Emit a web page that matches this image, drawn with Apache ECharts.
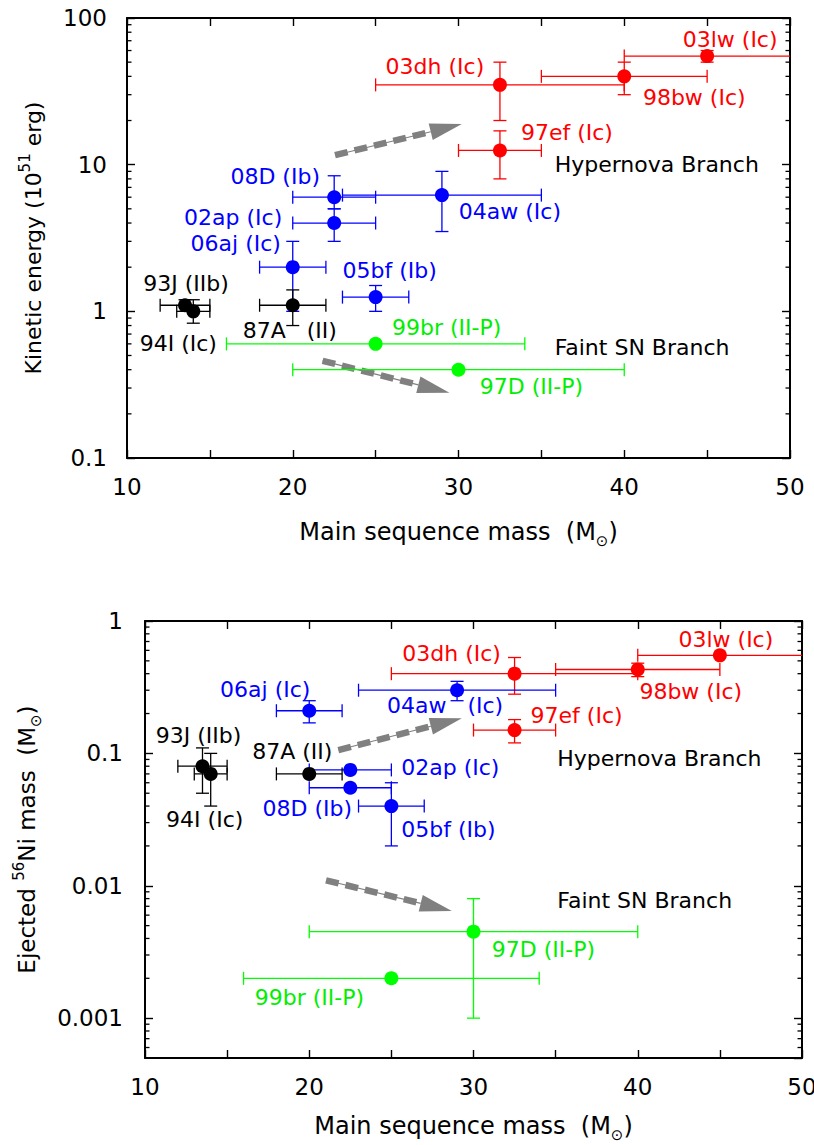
<!DOCTYPE html>
<html><head><meta charset="utf-8">
<script src="https://cdn.jsdelivr.net/npm/echarts@6/dist/echarts.min.js"></script>
<style>html,body{margin:0;padding:0;background:#fff}#c{width:814px;height:1145px}</style>
</head><body><div id="c"></div>
<script>
// ---------- data ----------
const snNames = ['03lw','98bw','03dh','97ef','08D','04aw','02ap','06aj','05bf','93J','94I','87A','99br','97D'];
const snGroup = ['HN','HN','HN','HN','SN','SN','SN','SN','SN','BK','BK','BK','FT','FT'];
const keLabels = ['03lw (Ic)','98bw (Ic)','03dh (Ic)','97ef (Ic)','08D (Ib)','04aw (Ic)','02ap (Ic)','06aj (Ic)','05bf (Ib)','93J (IIb)','94I (Ic)','87A   (II)','99br (II-P)','97D (II-P)'];
const niLabels = ['03lw (Ic)','98bw (Ic)','03dh (Ic)','97ef (Ic)','08D (Ib)','04aw   (Ic)','02ap (Ic)','06aj (Ic)','05bf (Ib)','93J (IIb)','94I (Ic)','87A (II)','99br (II-P)','97D (II-P)'];
const mass   = [45, 40, 32.5, 32.5, 22.5, 29, 22.5, 20, 25, 13.5, 14, 20, 25, 30];
const massLo = [40, 35, 25, 30, 20, 23, 20, 18, 23, 12, 13, 18, 16, 20];
const massHi = [55, 45, 40, 35, 25, 35, 25, 22, 27, 15, 15, 22, 34, 40];
const energy   = [55, 40, 35, 12.5, 6, 6.2, 4, 2, 1.25, 1.1, 1.0, 1.1, 0.6, 0.4];
const energyLo = [50, 30, 20, 8, 5, 3.5, 3, 1, 1.0, 1.0, 0.83, 0.8, null, null];
const energyHi = [60, 50, 50, 17, 8.4, 9, 5, 3, 1.5, 1.2, 1.2, 1.4, null, null];
const niMass = [0.55, 0.43, 0.4, 0.15, 0.055, 0.3, 0.075, 0.21, 0.04, 0.08, 0.07, 0.07, 0.002, 0.0045];
const niLo   = [null, 0.38, 0.28, 0.12, null, 0.25, null, 0.17, 0.02, 0.05, 0.04, null, null, 0.001];
const niHi   = [null, 0.48, 0.53, 0.18, null, 0.35, null, 0.25, 0.06, 0.11, 0.10, null, null, 0.008];
// arrows [x0, y0, x1, y1]
const keArrows = [[22.55, 11.6, 30.2, 18.9], [21.8, 0.46, 29.45, 0.279]];
const niArrows = [[21.77, 0.106, 29.29, 0.184], [21.02, 0.011, 28.68, 0.00646]];
const branchText = ['Hypernova Branch', 'Faint SN Branch'];
const keBranchX = [35.8, 35.8], keBranchY = [10.1, 0.565];
const niBranchX = [35.1, 35.1], niBranchY = [0.0917, 0.00778];
const xTicks = [10, 20, 30, 40, 50];
const keRange = [0.1, 100], niRange = [0.0005, 1];
const minorMultiples = [2, 3, 4, 5, 6, 7, 8, 9];

// ---------- styles ----------
const groupColor = {HN: '#ff0000', SN: '#0000ff', BK: '#000000', FT: '#00ff00'};
const textColor  = {HN: '#ff0000', SN: '#0000ff', BK: '#000000', FT: '#00ee00'};
const keLabelOffset = [[23,-17],[70,21],[-65,-18],[67,-18],[-59,-21],[68,16],[-101,-6],[-57,-24],[14,-27],[1,-22],[-15,32],[-3,25],[71,-16],[73,17]];
const niLabelOffset = [[6,-16],[53,22],[-63,-20],[62,-15],[-43,21],[-12,15],[100,-2],[-44,-21],[57,23],[-4,-31],[-6,46],[-17,-22],[-82,19],[70,18]];
const FONT = 'DejaVu Sans';

function scatterData(ys, labels, offsets) {
  return mass.map((m, i) => ({
    value: [m, ys[i]],
    itemStyle: {color: groupColor[snGroup[i]], opacity: 1},
    label: {show: true, position: 'inside', offset: offsets[i], formatter: labels[i], opacity: 1,
            color: textColor[snGroup[i]], fontSize: 22, fontFamily: FONT}
  }));
}

function errRender(ys, ylo, yhi) {
  return function (params, api) {
    const i = params.dataIndex;
    const c = api.coord([mass[i], ys[i]]);
    const col = groupColor[snGroup[i]];
    const st = {stroke: col, lineWidth: 1.3, opacity: 1};
    const cap = 6.5;
    const ch = [];
    const L = (x1, y1, x2, y2) => ch.push({type: 'line', shape: {x1, y1, x2, y2}, style: st});
    if (massLo[i] != null) {
      const a = api.coord([massLo[i], ys[i]])[0], b = api.coord([massHi[i], ys[i]])[0];
      L(a, c[1], b, c[1]); L(a, c[1]-cap, a, c[1]+cap); L(b, c[1]-cap, b, c[1]+cap);
    }
    if (ylo[i] != null) {
      const a = api.coord([mass[i], ylo[i]])[1], b = api.coord([mass[i], yhi[i]])[1];
      L(c[0], a, c[0], b); L(c[0]-cap, a, c[0]+cap, a); L(c[0]-cap, b, c[0]+cap, b);
    }
    return {type: 'group', children: ch};
  };
}

function arrowRender(arrows) {
  return function (params, api) {
    const a = arrows[params.dataIndex];
    const p0 = api.coord([a[0], a[1]]), p1 = api.coord([a[2], a[3]]);
    const dx = p1[0]-p0[0], dy = p1[1]-p0[1], len = Math.hypot(dx, dy);
    const ux = dx/len, uy = dy/len, nx = -uy, ny = ux;
    const hl = 32, hw = 8.5;
    const bx = p1[0]-ux*hl, by = p1[1]-uy*hl;
    return {type: 'group', children: [
      {type: 'line', shape: {x1: p0[0], y1: p0[1], x2: bx, y2: by}, style: {stroke: '#808080', lineWidth: 1.2}},
      {type: 'line', shape: {x1: p0[0], y1: p0[1], x2: bx, y2: by}, style: {stroke: '#808080', lineWidth: 6.5, lineDash: [13, 7], lineCap: 'butt'}},
      {type: 'polygon', shape: {points: [[p1[0], p1[1]], [bx+nx*hw, by+ny*hw], [bx-nx*hw, by-ny*hw]]}, style: {fill: '#808080'}}
    ]};
  };
}

function minorTicks(range) {
  const out = [];
  for (let k = Math.floor(Math.log10(range[0])); k < Math.log10(range[1]); k++) {
    minorMultiples.forEach(m => { const v = m * Math.pow(10, k); if (v > range[0] && v < range[1]) out.push([10, v]); });
  }
  return out;
}
function minorRender(params, api) {
  const cs = params.coordSys;
  const y = api.coord([api.value(0), api.value(1)])[1];
  const st = {stroke: '#000', lineWidth: 1.3};
  return {type: 'group', children: [
    {type: 'line', shape: {x1: cs.x, y1: y, x2: cs.x + 4.5, y2: y}, style: st},
    {type: 'line', shape: {x1: cs.x + cs.width - 4.5, y1: y, x2: cs.x + cs.width, y2: y}, style: st}
  ]};
}
function branchRender(xs, ys) {
  return function (params, api) {
    const i = params.dataIndex;
    const p = api.coord([xs[i], ys[i]]);
    return {type: 'text', x: p[0], y: p[1], style: {text: branchText[i], fill: '#000', fontSize: 22, fontFamily: FONT, align: 'left', verticalAlign: 'middle'}};
  };
}

const axLine = {show: true, onZero: false, lineStyle: {color: '#000', width: 2}};
const tick = {show: true, inside: true, length: 8, lineStyle: {color: '#000', width: 1.4}};
const lab = {fontSize: 23, fontFamily: FONT, color: '#000'};
const xLab = Object.assign({}, lab, {margin: 17, formatter: v => xTicks.indexOf(v) >= 0 ? String(v) : ''});
const yFmt = v => String(+(+v).toPrecision(1));
function rich(sz) {
  return {
    a: {fontSize: sz, fontFamily: FONT, color: '#000', lineHeight: 32},
    s: {fontSize: 15, fontFamily: FONT, color: '#000', lineHeight: 16, verticalAlign: 'top'},
    b: {fontSize: 15, fontFamily: FONT, color: '#000', lineHeight: 18, verticalAlign: 'bottom'}
  };
}
const xName = '{a|Main sequence mass  (M}{b|\u2299}{a|)}';

function xAx(g, pos, name, gap) {
  return {gridIndex: g, type: 'value', min: 10, max: 50, interval: 5, position: pos,
    axisLine: axLine, axisTick: tick, splitLine: {show: false},
    axisLabel: pos === 'bottom' ? xLab : {show: false},
    name: name || '', nameLocation: 'middle', nameGap: gap || 0, nameTextStyle: {rich: rich(24)}};
}
function yAx(g, pos, range, name, gap, margin, sz) {
  return {gridIndex: g, type: 'log', logBase: 10, min: range[0], max: range[1], position: pos,
    axisLine: axLine, axisTick: tick, splitLine: {show: false}, minorTick: {show: false},
    axisLabel: pos === 'left' ? Object.assign({}, lab, {margin: margin, formatter: yFmt, showMinLabel: range[0] === 0.1}) : {show: false},
    name: name || '', nameLocation: 'middle', nameRotate: 90, nameGap: gap || 0, nameTextStyle: {rich: rich(sz || 22)}};
}

const option = {
  animation: false,
  backgroundColor: '#fff',
  textStyle: {fontFamily: FONT},
  grid: [
    {left: 127, top: 18, width: 663, height: 440, outerBoundsMode: 'none', containLabel: false},
    {left: 145, top: 621, width: 657, height: 437, outerBoundsMode: 'none', containLabel: false}
  ],
  xAxis: [xAx(0, 'bottom', xName, 58), xAx(0, 'top'), xAx(1, 'bottom', xName, 52), xAx(1, 'top')],
  yAxis: [
    yAx(0, 'left', keRange, '{a|Kinetic energy (10}{s|51}{a| erg)}', 78, 20, 22), yAx(0, 'right', keRange),
    yAx(1, 'left', niRange, '{a|Ejected }{s|56}{a|Ni mass  (M}{b|\u2299}{a|)}', 102, 22, 23), yAx(1, 'right', niRange)
  ],
  series: [
    {type: 'custom', xAxisIndex: 0, yAxisIndex: 0, clip: true, z: 2, renderItem: errRender(energy, energyLo, energyHi), data: mass.map((m, i) => [m, energy[i]])},
    {type: 'custom', xAxisIndex: 0, yAxisIndex: 0, clip: true, z: 1, renderItem: arrowRender(keArrows), data: keArrows.map(a => [a[0], a[1]])},
    {type: 'custom', xAxisIndex: 0, yAxisIndex: 0, z: 5, renderItem: minorRender, data: minorTicks(keRange)},
    {type: 'custom', xAxisIndex: 0, yAxisIndex: 0, z: 5, renderItem: branchRender(keBranchX, keBranchY), data: keBranchX.map((x, i) => [x, keBranchY[i]])},
    {type: 'scatter', xAxisIndex: 0, yAxisIndex: 0, z: 3, symbol: 'circle', symbolSize: 14, itemStyle: {opacity: 1}, data: scatterData(energy, keLabels, keLabelOffset)},

    {type: 'custom', xAxisIndex: 2, yAxisIndex: 2, clip: true, z: 2, renderItem: errRender(niMass, niLo, niHi), data: mass.map((m, i) => [m, niMass[i]])},
    {type: 'custom', xAxisIndex: 2, yAxisIndex: 2, clip: true, z: 1, renderItem: arrowRender(niArrows), data: niArrows.map(a => [a[0], a[1]])},
    {type: 'custom', xAxisIndex: 2, yAxisIndex: 2, z: 5, renderItem: minorRender, data: minorTicks(niRange)},
    {type: 'custom', xAxisIndex: 2, yAxisIndex: 2, z: 5, renderItem: branchRender(niBranchX, niBranchY), data: niBranchX.map((x, i) => [x, niBranchY[i]])},
    {type: 'scatter', xAxisIndex: 2, yAxisIndex: 2, z: 3, symbol: 'circle', symbolSize: 14, itemStyle: {opacity: 1}, data: scatterData(niMass, niLabels, niLabelOffset)}
  ]
};
const chart = echarts.init(document.getElementById('c'), null, {renderer: 'svg'});
chart.setOption(option);
</script></body></html>
